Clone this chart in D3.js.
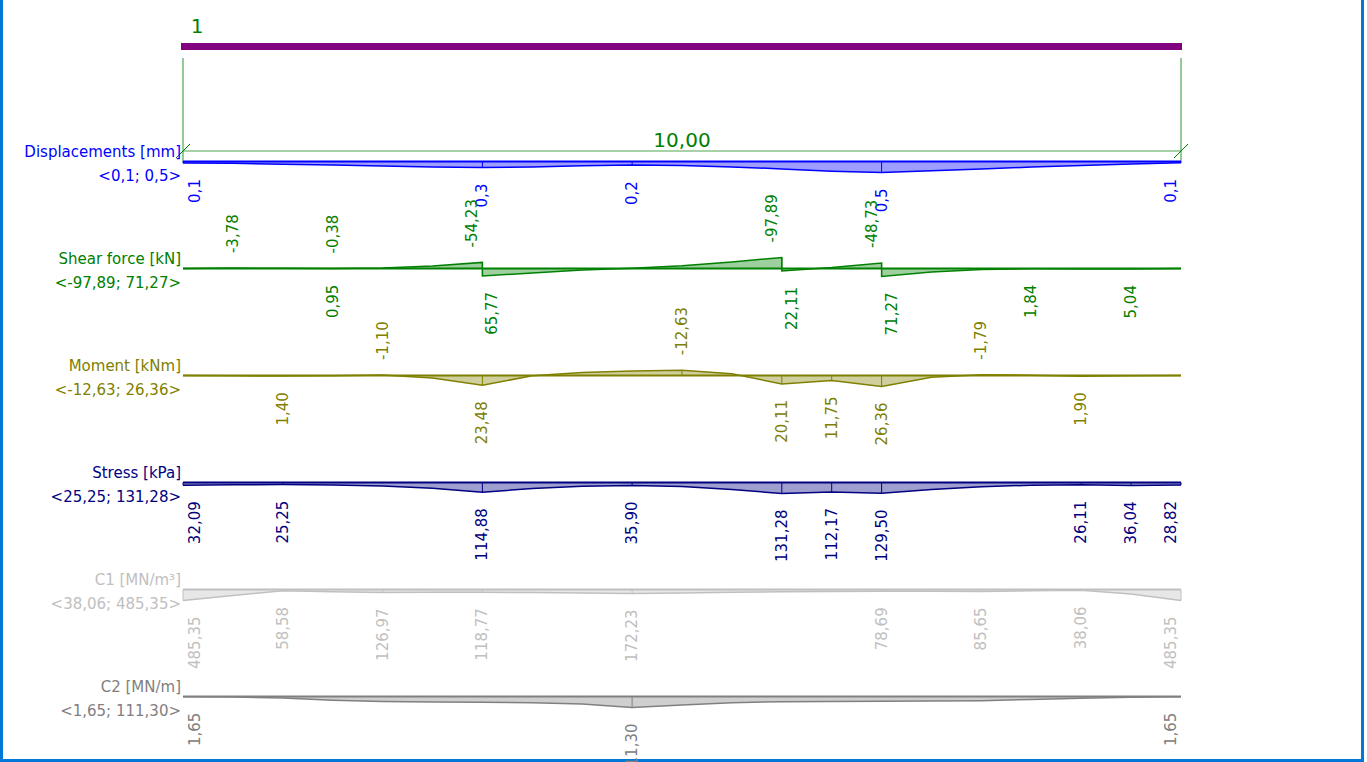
<!doctype html>
<html>
<head>
<meta charset="utf-8" />
<title>Beam 1 – results along the member</title>
<style>
  html,body{margin:0;background:#fff;overflow:hidden}
  svg{display:block;font-family:"DejaVu Sans", Verdana, sans-serif}
  .ttl{font-size:15px;text-anchor:end}
  .val{font-size:15px;dominant-baseline:central}
</style>
<script src="https://cdn.jsdelivr.net/npm/d3@7"></script>
</head>
<body>
<svg id="chart" width="1367" height="762"></svg>
<script>
/* ---- data ---- */
const beamName   = "1";
const beamLength = 10;          // m
const stations   = [0,0.5,1,1.5,2,2.5,3,3.5,4,4.5,5,5.5,6,6.5,7,7.5,8,8.5,9,9.5,10];

// displacements [mm]
const dispMm  = [0.07,0.08,0.12,0.16,0.20,0.24,0.27,0.24,0.19,0.16,0.18,0.24,0.33,0.43,0.49,0.41,0.33,0.25,0.18,0.11,0.06];
const dispLbl = [0,6,9,14,20];

// shear force [kN]  (repeated x = jump under a point load)
const shearX  = [0,0.5,1,1.5,1.5,2,2.5,3,3,3.5,4,4.5,5,5.5,6,6,6.5,7,7,7.5,8,8.5,9,9.5,10];
const shearKN = [0,-3.78,-2.2,-0.38,0.95,-4,-22,-54.23,65.77,40,14,-2,-24,-58,-97.89,22.11,-8,-48.73,71.27,32,8,1.84,3.5,5.04,0];
const shearLbl = [1,3,4,7,8,14,15,17,18,21,23];

// moment [kNm]
const momentKNm = [0,0.6,1.40,0.4,-1.10,6,23.48,0.5,-7,-10.5,-12.63,-4,20.11,11.75,26.36,4,-1.79,-0.6,1.90,0.6,0];
const momentLbl = [2,4,6,10,12,13,14,16,18];

// contact stress [kPa]
const stressKPa = [32.09,27,25.25,30,42,70,114.88,72,45,35.90,48,85,131.28,112.17,129.50,85,50,32,26.11,36.04,28.82];
const stressLbl = [0,2,6,9,12,13,14,18,19,20];

// subsoil C1 [MN/m3]
const c1 = [485.35,260,58.58,95,126.97,122,118.77,135,155,172.23,150,120,100,88,78.69,82,85.65,60,38.06,200,485.35];
const c1Lbl = [0,2,4,6,9,14,16,18,20];

// subsoil C2 [MN/m]
const c2 = [1.65,6,16,38,50,55,58,62,75,111.30,85,62,52,50,48,46,42,30,18,8,1.65];
const c2Lbl = [0,9,20];

/* ---- drawing ---- */
const svg = d3.select('#chart');
const x = d3.scaleLinear().domain([0, beamLength]).range([183, 1181]);
const loc = d3.formatLocale({decimal:",", thousands:" ", grouping:[3], currency:["",""], minus:"-"});

const diagrams = [
  {title:"Displacements [mm]", xs:stations, vs:dispMm,   lbl:dispLbl,   fmt:loc.format(".1f"), color:"#0000ff"},
  {title:"Shear force [kN]",   xs:shearX,   vs:shearKN,  lbl:shearLbl,  fmt:loc.format(".2f"), color:"#008000"},
  {title:"Moment [kNm]",       xs:stations, vs:momentKNm,lbl:momentLbl, fmt:loc.format(".2f"), color:"#808000"},
  {title:"Stress [kPa]",       xs:stations, vs:stressKPa,lbl:stressLbl, fmt:loc.format(".2f"), color:"#000080"},
  {title:"C1 [MN/m³]",         xs:stations, vs:c1,       lbl:c1Lbl,     fmt:loc.format(".2f"), color:"#c0c0c0"},
  {title:"C2 [MN/m]",          xs:stations, vs:c2,       lbl:c2Lbl,     fmt:loc.format(".2f"), color:"#808080"}
];

// window frame
svg.append('rect').attr('x',0).attr('y',0).attr('width',3).attr('height',762).attr('fill','#0078d7');
svg.append('rect').attr('x',1361).attr('y',0).attr('width',3).attr('height',762).attr('fill','#0078d7');
svg.append('rect').attr('x',0).attr('y',759).attr('width',1364).attr('height',3).attr('fill','#0078d7');

// member
svg.append('rect').attr('x', x(0)-2).attr('y',43).attr('width', x(beamLength)-x(0)+3).attr('height',7).attr('fill','#800080');
svg.append('text').attr('x', x(0)+14).attr('y',33).attr('text-anchor','middle')
   .style('font-size','20px').attr('fill','#008000').text(beamName);

// dimension line
const dim = svg.append('g').attr('stroke','#4fa54f').attr('stroke-width',1.2);
[0, beamLength].forEach(d => dim.append('line').attr('x1',x(d)).attr('x2',x(d)).attr('y1',58).attr('y2',162));
dim.append('line').attr('x1',x(0)).attr('x2',x(beamLength)).attr('y1',151).attr('y2',151);
[0, beamLength].forEach(d => svg.append('line').attr('stroke','#008000').attr('stroke-width',1)
   .attr('x1',x(d)-7).attr('y1',158).attr('x2',x(d)+7).attr('y2',144));
svg.append('text').attr('x',(x(0)+x(beamLength))/2).attr('y',147).attr('text-anchor','middle')
   .style('font-size','20px').attr('fill','#008000').text(loc.format(".2f")(beamLength));

diagrams.forEach((dg, k) => {
  const y0 = 161.5 + k*107;
  const maxAbs = d3.max(dg.vs, v => Math.abs(v));
  const h = d3.scaleLinear().domain([0, maxAbs]).range([0, 11]);
  const yv = v => y0 + (v < 0 ? -h(-v) : h(v));
  const pts = dg.vs.map((v,i) => [dg.xs[i], v]);
  const g = svg.append('g');

  g.append('path').datum(pts)
    .attr('d', d3.area().x(p => x(p[0])).y0(y0).y1(p => yv(p[1])))
    .attr('fill', dg.color).attr('fill-opacity', 0.38);

  // verticals at labelled sections
  dg.lbl.forEach(i => g.append('line')
    .attr('x1', x(dg.xs[i])).attr('x2', x(dg.xs[i]))
    .attr('y1', y0).attr('y2', yv(dg.vs[i]))
    .attr('stroke', dg.color).attr('stroke-width', 1));

  g.append('line').attr('x1', x(0)).attr('x2', x(beamLength)).attr('y1', y0).attr('y2', y0)
    .attr('stroke', dg.color).attr('stroke-width', 2);
  g.append('path').datum(pts)
    .attr('d', d3.line().x(p => x(p[0])).y(p => yv(p[1])))
    .attr('fill','none').attr('stroke', dg.color).attr('stroke-width', 1.5);

  // titles on the left
  g.append('text').attr('class','ttl').attr('x',181).attr('y',y0-5).attr('fill',dg.color).text(dg.title);
  g.append('text').attr('class','ttl').attr('x',181).attr('y',y0+19).attr('fill',dg.color)
    .text(`<${dg.fmt(d3.min(dg.vs))}; ${dg.fmt(d3.max(dg.vs))}>`);

  // value labels
  const n = dg.xs.length;
  dg.lbl.forEach(i => {
    let dx = 0;
    if (i === 0) dx = 12;
    else if (i === n-1) dx = -10;
    else if (dg.xs[i+1] === dg.xs[i] && Math.abs(dg.vs[i+1]-dg.vs[i]) > 5) dx = -10;
    else if (dg.xs[i-1] === dg.xs[i] && Math.abs(dg.vs[i-1]-dg.vs[i]) > 5) dx = 10;
    const v = dg.vs[i];
    const up = v < 0;
    const px = x(dg.xs[i]) + dx, py = up ? yv(v) - 15 : yv(v) + 16;
    g.append('text').attr('class','val')
      .attr('transform', `translate(${px},${py}) rotate(-90)`)
      .attr('text-anchor', up ? 'start' : 'end')
      .attr('fill', dg.color)
      .text(dg.fmt(v));
  });
});
</script>
</body>
</html>
